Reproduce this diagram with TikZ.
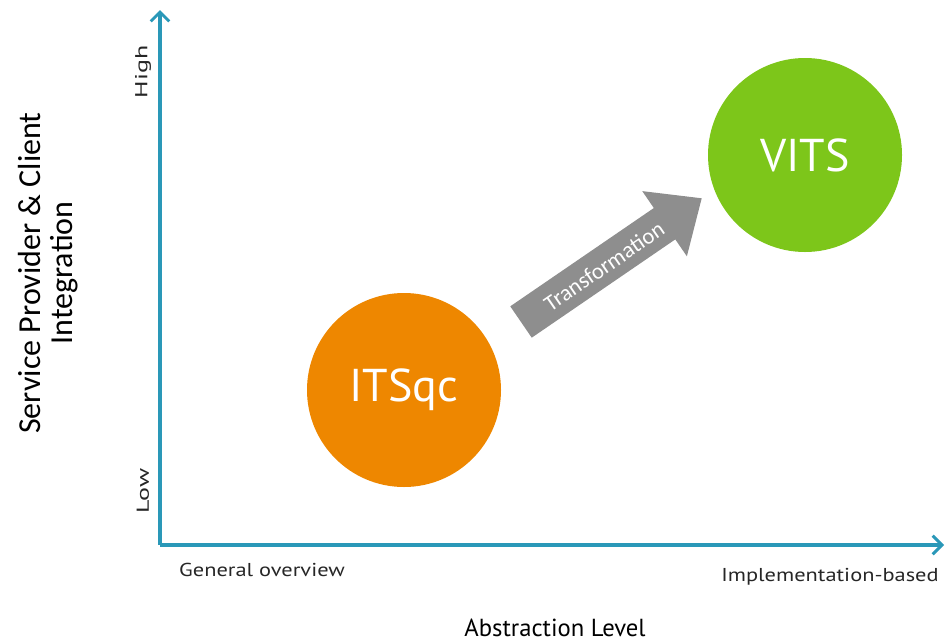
\documentclass[tikz,border=0pt]{standalone}
\usepackage{fontspec}
\setmainfont{PT Sans}
\newfontfamily\carlitofont{Carlito}
\newfontfamily\widefont[FakeStretch=1.2]{PT Sans}
\newfontfamily\widerfont[FakeStretch=1.5]{PT Sans}
\usetikzlibrary{arrows.meta}
\definecolor{axisblue}{HTML}{2A98B8}
\definecolor{orangec}{HTML}{EE8700}
\definecolor{greenc}{HTML}{7DC61A}
\definecolor{arrowgray}{HTML}{8E8E8E}
\tikzset{
  axis/.style={draw=axisblue, line width=2.4pt, -{Straight Barb[length=7pt,width=14pt,line width=2.2pt]}},
  bubble/.style={circle, minimum size=145.5pt, inner sep=0pt, text=white, font=\fontsize{34.5}{38}\selectfont},
  lbl/.style={font=\widefont\fontsize{14}{16}\selectfont, text=black!85},
  hilo/.style={rotate=90, font=\widerfont\fontsize{13}{15}\selectfont, text=black!85},
}
\begin{document}
\begin{tikzpicture}[x=0.75pt,y=-0.75pt]
\useasboundingbox (0,0) rectangle (945,643);
\coordinate (O) at (160,545);
\coordinate (ytop) at (160,10);
\coordinate (xend) at (944,545);
\draw[axis] (O) -- (ytop);
\draw[axis] (O) -- (xend);
\node[bubble, fill=orangec] (itsqc) at (404,390) {ITSqc};
\node[bubble, fill=greenc] (vits) at (805,155) {VITS};
\begin{scope}[shift={(521,322)}, rotate=34.4]
  \fill[arrowgray] (0,-19) -- (174,-19) -- (174,-39.5) -- (219,0) -- (174,39.5) -- (174,19) -- (0,19) -- cycle;
  \node[rotate=34.4, text=white, inner sep=0pt, font=\carlitofont\fontsize{17}{19}\selectfont] (tr) at (100,1) {Transformation};
\end{scope}
\node[hilo] (high) at (143,72) {High};
\node[hilo] (low) at (143,491) {Low};
\node[lbl] (gen) at (262,570) {General overview};
\node[lbl] (impl) at (830,577) {Implementation-based};
\node[font=\fontsize{18.5}{22}\selectfont] (abs) at (555,628) {Abstraction Level};
\node[rotate=90, align=center, font=\carlitofont\fontsize{24}{24}\selectfont] (ylab) at (48,273) {Service Provider \& Client\\Integration};
\end{tikzpicture}
\end{document}
